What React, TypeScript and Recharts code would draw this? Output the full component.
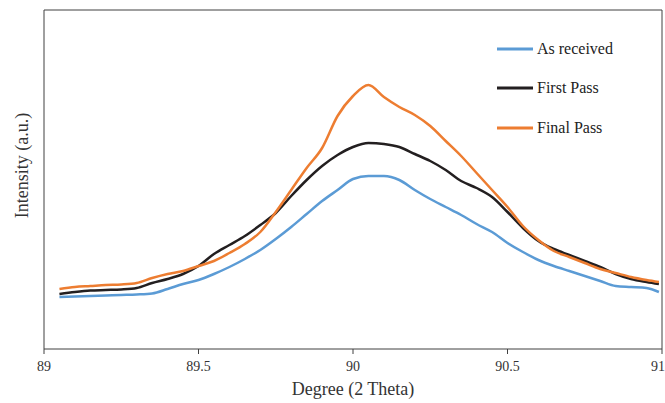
import React from "react";
import {
  ComposedChart,
  Line,
  XAxis,
  YAxis,
  Legend,
  ReferenceLine,
} from "recharts";

// x positions (degree 2θ) and intensity (a.u.)
const degrees = [
  89.05, 89.1, 89.15, 89.2, 89.25, 89.3, 89.35, 89.4, 89.45, 89.5,
  89.55, 89.6, 89.65, 89.7, 89.75, 89.8, 89.85, 89.9, 89.95, 90.0,
  90.05, 90.1, 90.15, 90.2, 90.25, 90.3, 90.35, 90.4, 90.45, 90.5,
  90.55, 90.6, 90.65, 90.7, 90.75, 90.8, 90.85, 90.9, 90.95, 90.99,
];

const asReceived = [
  52, 52.5, 53, 53.5, 54, 54.5, 55.5, 60, 65, 69,
  75, 82, 90, 99, 110, 122, 135, 148, 159, 170,
  173, 173, 169, 159, 150, 142, 134, 125, 117, 106,
  97, 89, 83, 78, 73, 68, 63, 62, 61, 57,
];

const firstPass = [
  55, 57, 58.5, 59, 59.5, 61, 66, 70, 75, 83,
  95, 104, 113, 124, 136, 153, 169, 183, 194, 202,
  206, 205, 202, 195, 188, 179, 168, 161, 152, 137,
  121, 108, 100, 94, 88, 82, 75, 70, 67, 65,
];

const finalPass = [
  60, 62, 63, 64, 64.5, 66, 71, 75, 78, 83,
  88, 96, 105, 117, 137, 159, 181, 201, 233, 253,
  264, 252, 242, 234, 223, 208, 193, 176, 159, 142,
  123, 109, 98, 92, 86, 80, 76, 72, 69, 67,
];

const xTicks = [89, 89.5, 90, 90.5, 91];

const series = [
  { key: "asReceived", name: "As received", color: "#5B9BD5" },
  { key: "firstPass", name: "First Pass", color: "#231F20" },
  { key: "finalPass", name: "Final Pass", color: "#ED7D31" },
];

const rows = degrees.map((x, i) => ({
  x,
  asReceived: asReceived[i],
  firstPass: firstPass[i],
  finalPass: finalPass[i],
}));

const font = "'Liberation Serif', 'Times New Roman', serif";

function LegendBox() {
  return (
    <div style={{ fontFamily: font, fontSize: 16, color: "#222" }}>
      {series.map((s) => (
        <div
          key={s.key}
          style={{ display: "flex", alignItems: "center", height: 39.5 }}
        >
          <svg width={36} height={4} style={{ marginRight: 4 }}>
            <line x1={0} y1={2} x2={36} y2={2} stroke={s.color} strokeWidth={3} />
          </svg>
          <span>{s.name}</span>
        </div>
      ))}
    </div>
  );
}

export default function App() {
  return (
    <div style={{ position: "absolute", left: 0, top: 0, background: "#fff" }}>
      <ComposedChart
        width={665}
        height={403}
        data={rows}
        margin={{ top: 10, right: 3, bottom: 4, left: 0 }}
        style={{ fontFamily: font }}
      >
        <XAxis
          dataKey="x"
          type="number"
          domain={[89, 91]}
          ticks={xTicks}
          height={50}
          tickSize={5}
          tickMargin={7}
          stroke="#404040"
          tick={{ fill: "#333", fontSize: 14 }}
          label={{
            value: "Degree (2 Theta)",
            position: "insideBottom",
            offset: 4,
            fill: "#333",
            fontSize: 18,
          }}
        />
        <YAxis
          type="number"
          domain={[0, 339]}
          width={44}
          tick={false}
          tickLine={false}
          stroke="#404040"
          label={{
            value: "Intensity (a.u.)",
            angle: -90,
            position: "center",
            dy: -14,
            fill: "#333",
            fontSize: 18,
          }}
        />
        <ReferenceLine y={339} stroke="#404040" />
        <ReferenceLine x={91} stroke="#404040" />
        <Legend
          layout="vertical"
          verticalAlign="middle"
          align="center"
          content={<LegendBox />}
          wrapperStyle={{ left: 497, top: 29, width: 160 }}
        />
        {series.map((s) => (
          <Line
            key={s.key}
            type="monotone"
            dataKey={s.key}
            name={s.name}
            stroke={s.color}
            strokeWidth={2.5}
            dot={false}
            isAnimationActive={false}
          />
        ))}
      </ComposedChart>
    </div>
  );
}
